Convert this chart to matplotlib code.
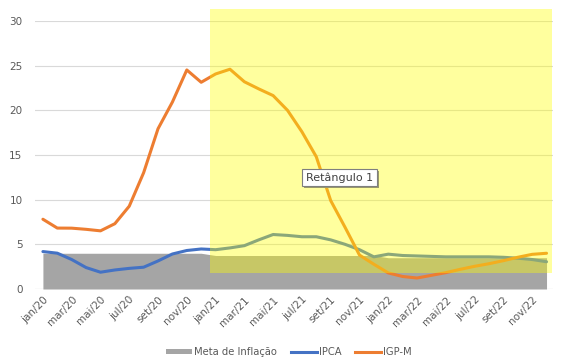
import numpy as np
import matplotlib.pyplot as plt
from matplotlib.patches import Rectangle, Patch
from matplotlib.lines import Line2D

meses = ['jan', 'fev', 'mar', 'abr', 'mai', 'jun', 'jul', 'ago', 'set', 'out', 'nov', 'dez']
anos = ['20', '21', '22']
rotulos = [m + '/' + a for a in anos for m in meses]

meta = [4.0] * 12 + [3.75] * 12 + [3.5] * 12
ipca = [4.19, 4.01, 3.30, 2.40, 1.88, 2.13, 2.31, 2.44, 3.14, 3.92, 4.31, 4.48,
        4.40, 4.60, 4.85, 5.50, 6.10, 6.00, 5.85, 5.85, 5.50, 5.00, 4.40, 3.60,
        3.90, 3.75, 3.70, 3.65, 3.60, 3.60, 3.60, 3.60, 3.55, 3.45, 3.30, 3.05]
igpm = [7.81, 6.82, 6.81, 6.68, 6.51, 7.31, 9.27, 13.02, 17.94, 20.93, 24.52, 23.14,
        24.07, 24.60, 23.20, 22.40, 21.65, 20.00, 17.60, 14.80, 9.90, 6.90, 3.80, 2.77,
        1.80, 1.40, 1.23, 1.53, 1.83, 2.20, 2.54, 2.83, 3.17, 3.55, 3.88, 4.00]

x = np.arange(len(rotulos))
cinza_txt = '#595959'

fig = plt.figure(figsize=(5.7, 3.61), dpi=100)
ax = fig.add_axes([35/570, 1-289/361, (553-35)/570, (289-21)/361])

ax.fill_between(x, 0, meta, color='#A5A5A5', lw=0, zorder=2)
ax.plot(x, ipca, color='#4472C4', lw=2.2, zorder=3, solid_capstyle='round')
ax.plot(x, igpm, color='#ED7D31', lw=2.2, zorder=3, solid_capstyle='round')

# retangulo amarelo por cima
ax.add_patch(Rectangle((11.6, 1.83), 35.4 - 11.6, 31.35 - 1.83, facecolor='#FFFF00',
                       alpha=0.38, lw=0, zorder=4, clip_on=False))

ax.set_xlim(-0.55, 35.45)
ax.set_ylim(0, 30)
ax.set_yticks(range(0, 31, 5))
ax.set_xticks(x[::2])
ax.set_xticklabels(rotulos[::2], rotation=45, ha='right', rotation_mode='anchor')
ax.tick_params(axis='both', length=0, labelsize=7.5, labelcolor=cinza_txt)
ax.tick_params(axis='y', pad=9)
ax.tick_params(axis='x', pad=4)
ax.grid(axis='y', color='#D9D9D9', lw=0.8, zorder=1)
ax.set_axisbelow(True)
for s in ax.spines.values():
    s.set_visible(False)
ax.axhline(0, color='#D9D9D9', lw=0.8, zorder=1)

# caixa "Retângulo 1"
x0, y0, w, h = 302/570, 1-186/361, 75/570, 17/361
fig.patches.append(Rectangle((x0 + 2/570, y0 - 2/361), w, h, transform=fig.transFigure,
                             facecolor='#9A9A6A', lw=0, zorder=5, figure=fig))
fig.patches.append(Rectangle((x0, y0), w, h, transform=fig.transFigure,
                             facecolor='white', edgecolor='#7F7F7F', lw=0.8, zorder=6, figure=fig))
fig.text(x0 + w/2, y0 + h/2, 'Retângulo 1', ha='center', va='center',
         fontsize=8, color='#404040', zorder=7)

handles = [Patch(facecolor='#A5A5A5', label='Meta de Inflação'),
           Line2D([], [], color='#4472C4', lw=2.2, label='IPCA'),
           Line2D([], [], color='#ED7D31', lw=2.2, label='IGP-M')]
leg = fig.legend(handles=handles, loc='center', bbox_to_anchor=(0.507, 0.025), ncol=3,
                 frameon=False, fontsize=7.2, handlelength=2.6, handleheight=0.45,
                 columnspacing=1.4, handletextpad=0.2)
for t in leg.get_texts():
    t.set_color(cinza_txt)

fig.savefig('out.png', dpi=100)
